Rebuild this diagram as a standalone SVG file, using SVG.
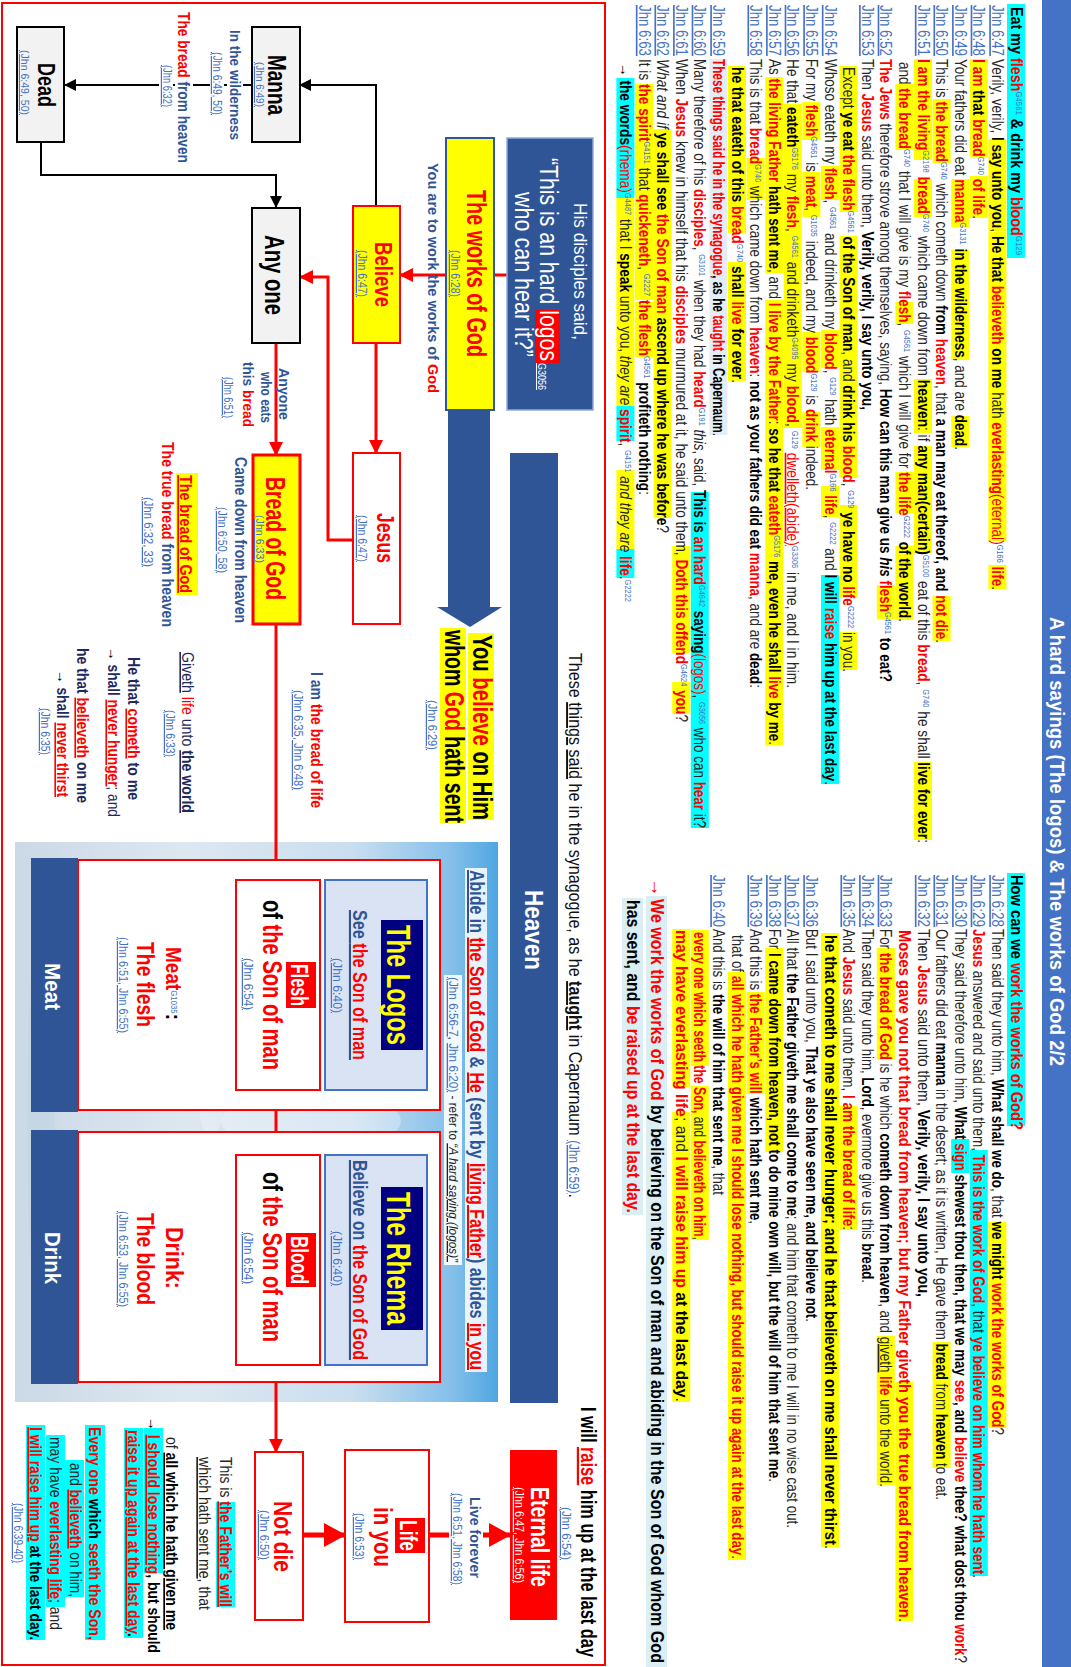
<svg xmlns="http://www.w3.org/2000/svg" width="1071" height="1667" viewBox="0 0 1071 1667">
<style>
text{font-family:"Liberation Sans Narrow","Liberation Sans",Arial,sans-serif}
.v{font-size:16.5px;fill:#262626}
.b{font-weight:700;fill:#000}
.r{font-weight:700;fill:#f00}
.rn{fill:#f00}
.bi{font-weight:700;font-style:italic;fill:#000}
.i{font-style:italic}
.g{font-size:9px;fill:#4472c4;font-weight:400;font-style:normal;baseline-shift:super}
.ref{fill:#4472c4;text-decoration:underline}
.hy{fill:#ffff00}.hc{fill:#00ffff}.hl{fill:#daeef3}
.nb{fill:#2f5597;font-weight:700}
.w{fill:#fff}
.u{text-decoration:underline}
.s12{font-size:12px}
</style>
<defs>
<marker id="ak" markerUnits="userSpaceOnUse" markerWidth="12" markerHeight="12" refX="11" refY="6" orient="auto"><path d="M0,0L12,6L0,12z" fill="#000"/></marker>
<marker id="ar" markerUnits="userSpaceOnUse" markerWidth="14" markerHeight="14" refX="13" refY="7" orient="auto"><path d="M0,0L14,7L0,14z" fill="#f00"/></marker>
<marker id="arb" markerUnits="userSpaceOnUse" markerWidth="22" markerHeight="24" refX="21" refY="12" orient="auto"><path d="M0,0L22,12L0,24z" fill="#f00"/></marker>
<linearGradient id="sky" x1="0" y1="0" x2="0" y2="1">
<stop offset="0" stop-color="#4fa6e2"/><stop offset="0.1" stop-color="#86c0ea"/><stop offset="0.3" stop-color="#c9deef"/><stop offset="0.65" stop-color="#dde7f0"/><stop offset="1" stop-color="#cbd9e6"/>
</linearGradient>
</defs>
<g transform="translate(1071,0) rotate(90)">
<rect x="0" y="0" width="1667" height="29" fill="#4472c4"/>
<text x="617" y="21" textLength="449" lengthAdjust="spacingAndGlyphs" font-size="21" font-weight="700" fill="#fff">A hard sayings (The logos) &amp; The works of God 2/2</text>

<g id="verses-left">
<rect class="hc" x="4" y="46" width="254" height="18"/>
<text class="v" x="7" y="60.5" textLength="248" lengthAdjust="spacingAndGlyphs"><tspan class="b">Eat my </tspan><tspan class="r">flesh</tspan><tspan class="g">G4561</tspan><tspan class="b"> &amp; drink my </tspan><tspan class="r">blood</tspan><tspan class="g">G129</tspan></text>

<rect class="hy" x="139" y="64.6" width="92" height="18"/><rect class="hy" x="232" y="64.6" width="309" height="18"/><rect class="hy" x="565" y="64.6" width="24" height="18"/>
<text class="v ref" x="5" y="79.1" textLength="51" lengthAdjust="spacingAndGlyphs">Jhn 6:47</text>
<text class="v" x="59" y="79.1" textLength="531" lengthAdjust="spacingAndGlyphs">Verily, verily, <tspan class="b">I say unto you</tspan>, <tspan class="b">He that </tspan><tspan class="r">believeth</tspan><tspan class="b"> on me</tspan> hath <tspan class="r">everlasting</tspan><tspan class="rn">(eternal)</tspan><tspan class="g">G166</tspan> <tspan class="r">life</tspan>.</text>

<rect class="hy" x="59" y="83.2" width="98" height="18"/><rect class="hy" x="176" y="83.2" width="42" height="18"/>
<text class="v ref" x="5" y="97.7" textLength="51" lengthAdjust="spacingAndGlyphs">Jhn 6:48</text>
<text class="v" x="59" y="97.7" textLength="160" lengthAdjust="spacingAndGlyphs"><tspan class="r">I am</tspan><tspan class="b"> that </tspan><tspan class="r">bread</tspan><tspan class="g">G740</tspan> <tspan class="r">of life</tspan>.</text>

<rect class="hy" x="179" y="101.8" width="48" height="18"/><rect class="hy" x="250" y="101.8" width="110" height="18"/><rect class="hy" x="416" y="101.8" width="31" height="18"/>
<text class="v ref" x="5" y="116.3" textLength="51" lengthAdjust="spacingAndGlyphs">Jhn 6:49</text>
<text class="v" x="59" y="116.3" textLength="391" lengthAdjust="spacingAndGlyphs">Your fathers did eat <tspan class="r">manna</tspan><tspan class="g">G3131</tspan><tspan class="b"> in the wilderness</tspan>, and are <tspan class="b">dead</tspan>.</text>

<rect class="hy" x="99" y="120.4" width="64" height="18"/><rect class="hy" x="596" y="120.4" width="45" height="18"/>
<text class="v ref" x="5" y="134.9" textLength="51" lengthAdjust="spacingAndGlyphs">Jhn 6:50</text>
<text class="v" x="59" y="134.9" textLength="584" lengthAdjust="spacingAndGlyphs">This is <tspan class="r">the bread</tspan><tspan class="g">G740</tspan> which cometh down <tspan class="b">from </tspan><tspan class="r">heaven</tspan>, that <tspan class="b">a man may eat thereof, and </tspan><tspan class="r">not die</tspan>.</text>

<rect class="hy" x="59" y="139" width="101" height="18"/><rect class="hy" x="179" y="139" width="38" height="18"/><rect class="hy" x="379" y="139" width="54" height="18"/><rect class="hy" x="446" y="139" width="107" height="18"/><rect class="hy" x="762" y="139" width="78" height="18"/>
<text class="v ref" x="5" y="153.5" textLength="51" lengthAdjust="spacingAndGlyphs">Jhn 6:51</text>
<text class="v" x="59" y="153.5" textLength="784" lengthAdjust="spacingAndGlyphs"><tspan class="r">I am the living</tspan><tspan class="g">G2198</tspan> <tspan class="r">bread</tspan><tspan class="g">G740</tspan> which came down from <tspan class="b">heaven</tspan>: if <tspan class="b">any man(certain)</tspan><tspan class="g">G5100</tspan> eat of this <tspan class="r">bread</tspan>, <tspan class="g">G740</tspan> he shall <tspan class="b">live for ever</tspan>:</text>

<rect class="hy" x="84" y="157.6" width="66" height="18"/><rect class="hy" x="302" y="157.6" width="22" height="18"/><rect class="hy" x="472" y="157.6" width="41" height="18"/><rect class="hy" x="546" y="157.6" width="74" height="18"/>
<text class="v" x="62" y="172.1" textLength="560" lengthAdjust="spacingAndGlyphs">and <tspan class="r">the bread</tspan><tspan class="g">G740</tspan> that I will give is my <tspan class="r">flesh</tspan>, <tspan class="g">G4561</tspan> which I will give for <tspan class="r">the life</tspan><tspan class="g">G2222</tspan><tspan class="b"> of the world</tspan>.</text>

<rect class="hy" x="585" y="176.2" width="34" height="18"/>
<text class="v ref" x="5" y="190.7" textLength="51" lengthAdjust="spacingAndGlyphs">Jhn 6:52</text>
<text class="v" x="59" y="190.7" textLength="623" lengthAdjust="spacingAndGlyphs"><tspan class="r">The Jews</tspan> therefore strove among themselves, saying, <tspan class="b">How can this man give us </tspan><tspan class="bi">his </tspan><tspan class="r">flesh</tspan><tspan class="g">G4561</tspan><tspan class="b"> to eat?</tspan></text>

<text class="v ref" x="5" y="209.3" textLength="51" lengthAdjust="spacingAndGlyphs">Jhn 6:53</text>
<text class="v" x="59" y="209.3" textLength="351" lengthAdjust="spacingAndGlyphs">Then <tspan class="r">Jesus</tspan> said unto them, <tspan class="b">Verily, verily, I say unto you,</tspan></text>

<rect class="hy" x="66" y="213.4" width="146" height="18"/><rect class="hy" x="236" y="213.4" width="242" height="18"/><rect class="hy" x="505" y="213.4" width="93" height="18"/><rect class="hy" x="632" y="213.4" width="38" height="18"/>
<text class="v" x="67" y="227.9" textLength="605" lengthAdjust="spacingAndGlyphs">Except <tspan class="b">ye eat </tspan><tspan class="r">the flesh</tspan><tspan class="g">G4561</tspan><tspan class="b"> of the Son of man</tspan>, and <tspan class="b">drink his </tspan><tspan class="r">blood</tspan>, <tspan class="g">G129</tspan><tspan class="b"> ye have no </tspan><tspan class="r">life</tspan><tspan class="g">G2222</tspan> in you.</text>

<rect class="hy" x="166" y="232" width="34" height="18"/><rect class="hy" x="330" y="232" width="38" height="18"/><rect class="hy" x="427" y="232" width="43" height="18"/><rect class="hy" x="486" y="232" width="31" height="18"/><rect class="hc" x="575" y="232" width="209" height="18"/>
<text class="v ref" x="5" y="246.5" textLength="51" lengthAdjust="spacingAndGlyphs">Jhn 6:54</text>
<text class="v" x="59" y="246.5" textLength="726" lengthAdjust="spacingAndGlyphs">Whoso eateth my <tspan class="r">flesh</tspan>, <tspan class="g">G4561</tspan> and drinketh my <tspan class="r">blood</tspan>, <tspan class="g">G129</tspan> hath <tspan class="r">eternal</tspan><tspan class="g">G166</tspan> <tspan class="r">life</tspan>, <tspan class="g">G2222</tspan> and <tspan class="b">I will </tspan><tspan class="r">raise</tspan><tspan class="b"> him up at the last day</tspan>.</text>

<rect class="hy" x="102" y="250.6" width="38" height="18"/><rect class="hy" x="172" y="250.6" width="45" height="18"/><rect class="hy" x="332" y="250.6" width="40" height="18"/><rect class="hy" x="412" y="250.6" width="35" height="18"/>
<text class="v ref" x="5" y="265.1" textLength="51" lengthAdjust="spacingAndGlyphs">Jhn 6:55</text>
<text class="v" x="59" y="265.1" textLength="431" lengthAdjust="spacingAndGlyphs">For my <tspan class="r">flesh</tspan><tspan class="g">G4561</tspan> is <tspan class="r">meat</tspan>, <tspan class="g">G1035</tspan> indeed, and my <tspan class="r">blood</tspan><tspan class="g">G129</tspan> is <tspan class="r">drink</tspan> indeed.</text>

<rect class="hy" x="104" y="269.2" width="324" height="18"/>
<text class="v ref" x="5" y="283.7" textLength="51" lengthAdjust="spacingAndGlyphs">Jhn 6:56</text>
<text class="v" x="59" y="283.7" textLength="629" lengthAdjust="spacingAndGlyphs">He that <tspan class="b">eateth</tspan><tspan class="g">G5176</tspan> my <tspan class="r">flesh</tspan>, <tspan class="g">G4561</tspan> and drinketh<tspan class="g">G4095</tspan> my <tspan class="r">blood</tspan>, <tspan class="g">G129</tspan> <tspan class="rn u">dwelleth(abide)</tspan><tspan class="g">G3306</tspan> in me, and I in him.</text>

<rect class="hy" x="77" y="287.8" width="196" height="18"/><rect class="hy" x="300" y="287.8" width="445" height="18"/>
<text class="v ref" x="5" y="302.3" textLength="51" lengthAdjust="spacingAndGlyphs">Jhn 6:57</text>
<text class="v" x="59" y="302.3" textLength="686" lengthAdjust="spacingAndGlyphs">As <tspan class="r">the living Father</tspan><tspan class="b"> hath sent me</tspan>, and <tspan class="r">I live by the Father</tspan>: <tspan class="b">so he that </tspan><tspan class="r">eateth</tspan><tspan class="g">G5176</tspan><tspan class="b"> me, even he shall </tspan><tspan class="r">live</tspan><tspan class="b"> by me</tspan>.</text>

<rect class="hy" x="158" y="306.4" width="42" height="18"/>
<text class="v ref" x="5" y="320.9" textLength="51" lengthAdjust="spacingAndGlyphs">Jhn 6:58</text>
<text class="v" x="59" y="320.9" textLength="629" lengthAdjust="spacingAndGlyphs">This is that <tspan class="r">bread</tspan><tspan class="g">G740</tspan> which came down from <tspan class="r">heaven</tspan>: <tspan class="b">not as your fathers did eat </tspan><tspan class="r">manna</tspan>, and are <tspan class="b">dead</tspan>:</text>

<rect class="hy" x="66" y="325" width="167" height="18"/><rect class="hy" x="262" y="325" width="119" height="18"/>
<text class="v" x="67" y="339.5" textLength="316" lengthAdjust="spacingAndGlyphs"><tspan class="b">he that eateth of this </tspan><tspan class="r">bread</tspan><tspan class="g">G740</tspan><tspan class="b"> shall </tspan><tspan class="r">live</tspan><tspan class="b"> for ever</tspan>.</text>

<rect x="59" y="343.6" width="376" height="18" fill="#e4ecf6"/>
<text class="v ref" x="5" y="358.1" textLength="51" lengthAdjust="spacingAndGlyphs">Jhn 6:59</text>
<text class="v" x="59" y="358.1" textLength="377" lengthAdjust="spacingAndGlyphs"><tspan class="r">These things said he in the synagogue</tspan><tspan class="b">, as he </tspan><tspan class="r">taught</tspan><tspan class="b"> in Capernaum</tspan>.</text>

<rect class="hc" x="492" y="362.2" width="336" height="18"/>
<text class="v ref" x="5" y="376.7" textLength="51" lengthAdjust="spacingAndGlyphs">Jhn 6:60</text>
<text class="v" x="59" y="376.7" textLength="769" lengthAdjust="spacingAndGlyphs">Many therefore of his <tspan class="r">disciples</tspan>, <tspan class="g">G3101</tspan> when they had <tspan class="r">heard</tspan><tspan class="g">G191</tspan> <tspan class="i">this</tspan>, said, <tspan class="b">This is </tspan><tspan class="r">an hard</tspan><tspan class="g">G4642</tspan><tspan class="b"> saying</tspan><tspan class="rn">(logos)</tspan>, <tspan class="g">G3056</tspan> who can <tspan class="r">hear</tspan> it?</text>

<rect class="hy" x="546" y="380.8" width="107" height="18"/><rect class="hy" x="682" y="380.8" width="32" height="18"/>
<text class="v ref" x="5" y="395.3" textLength="51" lengthAdjust="spacingAndGlyphs">Jhn 6:61</text>
<text class="v" x="59" y="395.3" textLength="663" lengthAdjust="spacingAndGlyphs">When <tspan class="r">Jesus</tspan> knew in himself that his <tspan class="r">disciples</tspan> murmured at it, he said unto them, <tspan class="r">Doth this offend</tspan><tspan class="g">G4624</tspan> <tspan class="r">you</tspan>?</text>

<rect class="hy" x="129" y="399.4" width="389" height="18"/>
<text class="v ref" x="5" y="413.9" textLength="51" lengthAdjust="spacingAndGlyphs">Jhn 6:62</text>
<text class="v" x="59" y="413.9" textLength="474" lengthAdjust="spacingAndGlyphs"><tspan class="i">What and if</tspan> <tspan class="b">ye shall see </tspan><tspan class="r">the Son of man</tspan><tspan class="b"> ascend up where he was before</tspan>?</text>

<rect class="hy" x="84" y="418" width="216" height="18"/><rect class="hy" x="302" y="418" width="55" height="18"/>
<text class="v ref" x="5" y="432.5" textLength="51" lengthAdjust="spacingAndGlyphs">Jhn 6:63</text>
<text class="v" x="59" y="432.5" textLength="436" lengthAdjust="spacingAndGlyphs">It is <tspan class="r">the spirit</tspan><tspan class="g">G4151</tspan> that <tspan class="r">quickeneth</tspan>, <tspan class="g">G2227</tspan> <tspan class="r">the flesh</tspan><tspan class="g">G4561</tspan> <tspan class="b">profiteth nothing</tspan>:</text>

<rect class="hc" x="78" y="436.6" width="120" height="18"/><rect class="hy" x="198" y="436.6" width="208" height="18"/><rect class="hc" x="406" y="436.6" width="35" height="18"/><rect class="hy" x="470" y="436.6" width="79" height="18"/><rect class="hc" x="549" y="436.6" width="29" height="18"/>
<text class="v" x="63" y="451.1" textLength="539" lengthAdjust="spacingAndGlyphs"><tspan class="b">→ the words</tspan><tspan class="rn">(rhema)</tspan><tspan class="g">G4487</tspan> that I <tspan class="b">speak</tspan> unto you, <tspan class="i">they are </tspan><tspan class="r">spirit</tspan>, <tspan class="g">G4151</tspan> <tspan class="i">and they are </tspan><tspan class="r">life</tspan>.<tspan class="g">G2222</tspan></text>
</g>

<g id="verses-right">
<rect class="hc" x="873" y="46" width="253" height="18"/>
<text class="v" x="875" y="60.5" textLength="255" lengthAdjust="spacingAndGlyphs"><tspan class="b">How can we </tspan><tspan class="r">work the works of God?</tspan></text>

<rect class="hy" x="1222" y="64.6" width="206" height="18"/>
<text class="v ref" x="875" y="79.1" textLength="52" lengthAdjust="spacingAndGlyphs">Jhn 6:28</text>
<text class="v" x="929" y="79.1" textLength="506" lengthAdjust="spacingAndGlyphs">Then said they unto him, <tspan class="b">What shall we do</tspan>, that <tspan class="b">we might </tspan><tspan class="r">work the works of God</tspan>?</text>

<rect class="hc" x="1150" y="83.2" width="426" height="18"/>
<text class="v ref" x="875" y="97.7" textLength="52" lengthAdjust="spacingAndGlyphs">Jhn 6:29</text>
<text class="v" x="929" y="97.7" textLength="649" lengthAdjust="spacingAndGlyphs"><tspan class="r">Jesus</tspan> answered and said unto them, <tspan class="r">This is the work of God</tspan>, that <tspan class="r">ye believe on him whom he hath sent</tspan>.</text>

<rect class="hc" x="1139" y="101.8" width="34" height="18"/>
<text class="v ref" x="875" y="116.3" textLength="52" lengthAdjust="spacingAndGlyphs">Jhn 6:30</text>
<text class="v" x="929" y="116.3" textLength="734" lengthAdjust="spacingAndGlyphs">They said therefore unto him, <tspan class="b">What </tspan><tspan class="r">sign</tspan><tspan class="b"> shewest thou then, that we may </tspan><tspan class="r">see</tspan><tspan class="b">, and </tspan><tspan class="r">believe</tspan><tspan class="b"> thee? what dost thou </tspan><tspan class="r">work</tspan>?</text>

<rect class="hy" x="1342" y="120.4" width="126" height="18"/>
<text class="v ref" x="875" y="134.9" textLength="52" lengthAdjust="spacingAndGlyphs">Jhn 6:31</text>
<text class="v" x="929" y="134.9" textLength="571" lengthAdjust="spacingAndGlyphs">Our fathers did eat <tspan class="b">manna</tspan> in the desert; as it is written, He gave them <tspan class="b">bread</tspan> from <tspan class="b">heaven</tspan> to eat.</text>

<text class="v ref" x="875" y="153.5" textLength="52" lengthAdjust="spacingAndGlyphs">Jhn 6:32</text>
<text class="v" x="929" y="153.5" textLength="368" lengthAdjust="spacingAndGlyphs">Then <tspan class="r">Jesus</tspan> said unto them, <tspan class="b">Verily, verily, I say unto you,</tspan></text>

<rect class="hy" x="1382" y="157.6" width="239" height="18"/>
<text class="v" x="930" y="172.1" textLength="692" lengthAdjust="spacingAndGlyphs"><tspan class="r">Moses gave you not that bread from heaven; but my Father giveth you the true bread from heaven</tspan>.</text>

<rect class="hy" x="948" y="176.2" width="112" height="18"/><rect class="hy" x="1336" y="176.2" width="149" height="18"/>
<text class="v ref" x="875" y="190.7" textLength="52" lengthAdjust="spacingAndGlyphs">Jhn 6:33</text>
<text class="v" x="929" y="190.7" textLength="558" lengthAdjust="spacingAndGlyphs">For <tspan class="r">the bread of God</tspan> is he which <tspan class="b">cometh down from heaven</tspan>, and <tspan class="u">giveth</tspan> <tspan class="r">life</tspan> unto the world.</text>

<text class="v ref" x="875" y="209.3" textLength="52" lengthAdjust="spacingAndGlyphs">Jhn 6:34</text>
<text class="v" x="929" y="209.3" textLength="354" lengthAdjust="spacingAndGlyphs">Then said they unto him, <tspan class="b">Lord</tspan>, evermore give us this <tspan class="b">bread</tspan>.</text>

<rect class="hy" x="1106" y="213.4" width="124" height="18"/>
<text class="v ref" x="875" y="227.9" textLength="52" lengthAdjust="spacingAndGlyphs">Jhn 6:35</text>
<text class="v" x="929" y="227.9" textLength="301" lengthAdjust="spacingAndGlyphs">And <tspan class="r">Jesus</tspan> said unto them, <tspan class="r">I am the bread of life</tspan>:</text>

<rect class="hy" x="933" y="232" width="614" height="18"/>
<text class="v" x="935" y="246.5" textLength="614" lengthAdjust="spacingAndGlyphs"><tspan class="b">he that cometh to me shall never hunger; and he that believeth on me shall never thirst</tspan>.</text>

<text class="v ref" x="875" y="265.1" textLength="52" lengthAdjust="spacingAndGlyphs">Jhn 6:36</text>
<text class="v" x="929" y="265.1" textLength="393" lengthAdjust="spacingAndGlyphs">But I said unto you, <tspan class="b">That ye also have seen me, and believe not</tspan>.</text>

<text class="v ref" x="875" y="283.7" textLength="52" lengthAdjust="spacingAndGlyphs">Jhn 6:37</text>
<text class="v" x="929" y="283.7" textLength="599" lengthAdjust="spacingAndGlyphs">All that <tspan class="b">the Father giveth me shall come to me</tspan>; and him that cometh to me I will in no wise cast out.</text>

<rect class="hy" x="948" y="287.8" width="204" height="18"/>
<text class="v ref" x="875" y="302.3" textLength="52" lengthAdjust="spacingAndGlyphs">Jhn 6:38</text>
<text class="v" x="929" y="302.3" textLength="553" lengthAdjust="spacingAndGlyphs">For <tspan class="b">I came down from heaven, not to do mine own will, but the will of him that sent me</tspan>.</text>

<rect class="hy" x="992" y="306.4" width="102" height="18"/>
<text class="v ref" x="875" y="320.9" textLength="52" lengthAdjust="spacingAndGlyphs">Jhn 6:39</text>
<text class="v" x="929" y="320.9" textLength="295" lengthAdjust="spacingAndGlyphs">And this is <tspan class="r">the Father’s will</tspan> <tspan class="b">which hath sent me</tspan>,</text>

<rect class="hy" x="972" y="325" width="588" height="18"/>
<text class="v" x="935" y="339.5" textLength="624" lengthAdjust="spacingAndGlyphs">that of <tspan class="r">all which he hath given me I should lose nothing, but should raise it up again at the last day</tspan>.</text>

<text class="v ref" x="875" y="358.1" textLength="52" lengthAdjust="spacingAndGlyphs">Jhn 6:40</text>
<text class="v" x="929" y="358.1" textLength="266" lengthAdjust="spacingAndGlyphs">And this is <tspan class="b">the will of him that sent me</tspan>, that</text>

<rect class="hy" x="930" y="362.2" width="136" height="18"/><rect class="hy" x="1086" y="362.2" width="154" height="18"/>
<text class="v" x="932" y="376.7" textLength="308" lengthAdjust="spacingAndGlyphs"><tspan class="r">every one which seeth the Son,</tspan> and <tspan class="r">believeth on him</tspan>,</text>

<rect class="hy" x="929" y="380.8" width="158" height="18"/><rect class="hy" x="1112" y="380.8" width="290" height="18"/>
<text class="v" x="930" y="395.3" textLength="472" lengthAdjust="spacingAndGlyphs"><tspan class="r">may have everlasting life</tspan>; and <tspan class="r">I will raise him up</tspan><tspan class="b"> at the last day</tspan>.</text>

<rect class="hl" x="896" y="404" width="771" height="21"/>
<text x="878" y="420" font-size="18.5" font-weight="700" fill="#f00">→</text>
<text x="899" y="420" textLength="764" lengthAdjust="spacingAndGlyphs" font-size="18.5" font-weight="700" fill="#000"><tspan fill="#f00">We work the works of God</tspan> by believing on the Son of man and abiding in the Son of God whom God</text>
<rect class="hl" x="898" y="428" width="317" height="21"/>
<text x="900" y="444" textLength="313" lengthAdjust="spacingAndGlyphs" font-size="18.5" font-weight="700" fill="#000">has sent, and <tspan fill="#f00">be raised up at the last day.</tspan></text>
</g>

<rect x="3" y="466" width="1662" height="603" fill="none" stroke="#f00" stroke-width="2"/>

<g id="sky-panel">
<rect x="842" y="573" width="560" height="483" fill="url(#sky)"/>
<ellipse cx="1000" cy="860" rx="140" ry="20" fill="#fff" opacity="0.25"/>
<ellipse cx="1250" cy="900" rx="120" ry="18" fill="#fff" opacity="0.25"/>
<ellipse cx="1121" cy="760" rx="30" ry="90" fill="#fff" opacity="0.3"/>
<ellipse cx="1120" cy="1030" rx="200" ry="14" fill="#b8cde0" opacity="0.35"/>
</g>

<g id="connectors">
<polyline points="206,695 85,695 85,771" fill="none" stroke="#000" stroke-width="2" marker-end="url(#ak)"/>
<line x1="85" y1="819" x2="85" y2="1006" stroke="#000" stroke-width="2" marker-end="url(#ak)"/>
<polyline points="142,1030 175,1030 175,795 207,795" fill="none" stroke="#000" stroke-width="2" marker-end="url(#ak)"/>
<line x1="275" y1="564" x2="275" y2="577" stroke="#f00" stroke-width="3"/>
<line x1="275" y1="625" x2="275" y2="671" stroke="#f00" stroke-width="3" marker-end="url(#ar)"/>
<line x1="343" y1="695" x2="453" y2="695" stroke="#f00" stroke-width="3" marker-end="url(#ar)"/>
<polyline points="540,718 540,743 277,743 277,771" fill="none" stroke="#f00" stroke-width="3" marker-end="url(#ar)"/>
<line x1="343" y1="795" x2="455" y2="795" stroke="#f00" stroke-width="3" marker-end="url(#ar)"/>
<line x1="624" y1="795" x2="880" y2="795" stroke="#f00" stroke-width="3" marker-end="url(#ar)"/>
<line x1="1090" y1="795" x2="1155" y2="795" stroke="#f00" stroke-width="3" marker-end="url(#ar)"/>
<line x1="1365" y1="795" x2="1452" y2="795" stroke="#f00" stroke-width="3" marker-end="url(#ar)"/>
<line x1="1535" y1="768" x2="1535" y2="726" stroke="#f00" stroke-width="5" marker-end="url(#arb)"/>
<line x1="1535" y1="642" x2="1535" y2="561" stroke="#f00" stroke-width="5" marker-end="url(#arb)"/>
<polygon points="410,581 607,581 607,569 627,601 607,634 607,623 410,623" fill="#2f5597"/>
</g>

<g id="disciples">
<rect x="138" y="478" width="272" height="86" fill="#2f5597" stroke="#8faadc" stroke-width="1.5"/>
<text x="203" y="497" textLength="137" lengthAdjust="spacingAndGlyphs" font-size="18" class="w">His disciples said,</text>
<rect x="310" y="511" width="53" height="25" fill="#f00"/>
<text x="158" y="531" textLength="203" lengthAdjust="spacingAndGlyphs" font-size="26" class="w">“This is an hard logos</text>
<text x="363" y="533" textLength="27" lengthAdjust="spacingAndGlyphs" font-size="10" class="w u">G3056</text>
<text x="192" y="556" textLength="165" lengthAdjust="spacingAndGlyphs" font-size="26" class="w">who can hear it?”</text>
</g>

<g id="works">
<rect x="138" y="577" width="272" height="48" fill="#ff0" stroke="#2f5597" stroke-width="2"/>
<text x="190" y="604" textLength="167" lengthAdjust="spacingAndGlyphs" font-size="28" class="r">The works of God</text>
<text x="250" y="620" textLength="47" lengthAdjust="spacingAndGlyphs" class="ref s12">(Jhn 6:28)</text>
<text x="163" y="643" textLength="230" lengthAdjust="spacingAndGlyphs" font-size="15" class="nb">You are to work the works of <tspan fill="#f00">God</tspan></text>
</g>

<g id="believe">
<rect x="206" y="671" width="137" height="47" fill="#ff0" stroke="#f00" stroke-width="2"/>
<text x="242" y="696" textLength="65" lengthAdjust="spacingAndGlyphs" font-size="24" class="r">Believe</text>
<text x="250" y="713" textLength="47" lengthAdjust="spacingAndGlyphs" class="ref s12">(Jhn 6:47)</text>
</g>

<g id="manna">
<rect x="27" y="771" width="115" height="48" fill="#f2f2f2" stroke="#000" stroke-width="2"/>
<text x="55" y="803" textLength="60" lengthAdjust="spacingAndGlyphs" font-size="26" font-weight="700">Manna</text>
<text x="62" y="815" textLength="45" lengthAdjust="spacingAndGlyphs" font-size="11" class="ref">(Jhn 6:49)</text>
</g>

<g id="manna-label">
<rect x="28" y="828" width="114" height="16" fill="#fff"/>
<text x="30" y="841" textLength="110" lengthAdjust="spacingAndGlyphs" font-size="15" class="nb">In the wilderness</text>
<rect x="50" y="847" width="67" height="14" fill="#fff"/>
<text x="52" y="858" textLength="63" lengthAdjust="spacingAndGlyphs" class="ref s12">(Jhn 6:49, 50)</text>
<rect x="10" y="878" width="155" height="18" fill="#fff"/>
<text x="12" y="893" textLength="151" lengthAdjust="spacingAndGlyphs" font-size="16" class="nb"><tspan fill="#f00">The bread</tspan> from heaven</text>
<rect x="63" y="898" width="46" height="14" fill="#fff"/>
<text x="65" y="908" textLength="42" lengthAdjust="spacingAndGlyphs" class="ref s12">(Jhn 6:32)</text>
</g>

<g id="dead">
<rect x="27" y="1007" width="115" height="47" fill="#f2f2f2" stroke="#000" stroke-width="2"/>
<text x="63" y="1033" textLength="44" lengthAdjust="spacingAndGlyphs" font-size="24" font-weight="700">Dead</text>
<text x="50" y="1050" textLength="65" lengthAdjust="spacingAndGlyphs" font-size="11" class="ref">(Jhn 6:49, 50)</text>
</g>

<g id="anyone">
<rect x="208" y="771" width="135" height="48" fill="#f2f2f2" stroke="#000" stroke-width="2"/>
<text x="235" y="806" textLength="80" lengthAdjust="spacingAndGlyphs" font-size="28" font-weight="700">Any one</text>
</g>

<g id="anyone-label">
<text x="368" y="792" textLength="52" lengthAdjust="spacingAndGlyphs" font-size="15" class="nb">Anyone</text>
<text x="372" y="810" textLength="51" lengthAdjust="spacingAndGlyphs" font-size="15" class="nb">who eats</text>
<text x="362" y="828" textLength="65" lengthAdjust="spacingAndGlyphs" font-size="15" class="nb">this <tspan fill="#f00">bread</tspan></text>
<text x="377" y="847" textLength="41" lengthAdjust="spacingAndGlyphs" class="ref s12">(Jhn 6:51)</text>
</g>

<g id="jesus">
<rect x="453" y="671" width="171" height="47" fill="#fff" stroke="#f00" stroke-width="2"/>
<text x="513" y="694" textLength="50" lengthAdjust="spacingAndGlyphs" font-size="24" class="r">Jesus</text>
<text x="515" y="713" textLength="47" lengthAdjust="spacingAndGlyphs" class="ref s12">(Jhn 6:47)</text>
</g>

<g id="bread-of-god">
<rect x="455" y="771" width="169" height="47" fill="#ff0" stroke="#f00" stroke-width="3"/>
<text x="477" y="805" textLength="123" lengthAdjust="spacingAndGlyphs" font-size="28" class="r">Bread of God</text>
<text x="515" y="815" textLength="48" lengthAdjust="spacingAndGlyphs" font-size="10" class="ref">(Jhn 6:33)</text>
</g>

<g id="bread-labels">
<text x="457" y="836" textLength="166" lengthAdjust="spacingAndGlyphs" font-size="16" class="nb">Came down from heaven</text>
<text x="507" y="853" textLength="66" lengthAdjust="spacingAndGlyphs" class="ref s12">(Jhn 6:50, 58)</text>
<rect x="473" y="873" width="122" height="22" fill="#ff0"/>
<text x="475" y="891" textLength="118" lengthAdjust="spacingAndGlyphs" font-size="17" class="r u">The bread of God</text>
<text x="442" y="909" textLength="185" lengthAdjust="spacingAndGlyphs" font-size="16" class="nb"><tspan fill="#f00">The true bread</tspan> from heaven</text>
<text x="497" y="927" textLength="70" lengthAdjust="spacingAndGlyphs" class="ref s12">(Jhn 6:32, 33)</text>
<text x="652" y="889" textLength="161" lengthAdjust="spacingAndGlyphs" font-size="16" fill="#1f2a5c"><tspan class="u">Giveth</tspan> <tspan fill="#f00">life</tspan> unto <tspan font-weight="700" class="u">the world</tspan></text>
<text x="710" y="905" textLength="47" lengthAdjust="spacingAndGlyphs" class="ref s12">(Jhn 6:33)</text>
<text x="657" y="943" textLength="143" lengthAdjust="spacingAndGlyphs" font-size="16" font-weight="700" fill="#1f2a5c">He that <tspan fill="#f00" class="u">cometh</tspan> to me</text>
<text x="647" y="963" textLength="170" lengthAdjust="spacingAndGlyphs" font-size="16" font-weight="700" fill="#1f2a5c"><tspan fill="#000">→</tspan> shall <tspan fill="#f00" class="u">never hunger</tspan><tspan font-weight="400">; and</tspan></text>
<text x="648" y="994" textLength="155" lengthAdjust="spacingAndGlyphs" font-size="16" font-weight="700" fill="#1f2a5c">he that <tspan fill="#f00" class="u">believeth</tspan> on me</text>
<text x="670" y="1014" textLength="127" lengthAdjust="spacingAndGlyphs" font-size="16" font-weight="700" fill="#1f2a5c"><tspan fill="#000">→</tspan> shall <tspan fill="#f00" class="u">never thirst</tspan></text>
<text x="708" y="1030" textLength="47" lengthAdjust="spacingAndGlyphs" class="ref s12">(Jhn 6:35)</text>
<text x="672" y="760" textLength="136" lengthAdjust="spacingAndGlyphs" font-size="16" class="nb">I am <tspan fill="#f00">the bread of life</tspan></text>
<text x="690" y="777" textLength="100" lengthAdjust="spacingAndGlyphs" class="ref s12">(Jhn 6:35, Jhn 6:48)</text>
</g>

<g id="you-believe">
<rect x="633" y="577" width="187" height="26" fill="#ff0"/>
<rect x="628" y="605" width="195" height="26" fill="#ff0"/>
<text x="635" y="598" textLength="185" lengthAdjust="spacingAndGlyphs" font-size="28" font-weight="700">You <tspan fill="#f00">believe</tspan> on Him</text>
<text x="630" y="626" textLength="193" lengthAdjust="spacingAndGlyphs" font-size="28" font-weight="700">whom <tspan fill="#f00">God</tspan> hath sent</text>
<text x="700" y="643" textLength="50" lengthAdjust="spacingAndGlyphs" class="ref s12">(Jhn 6:29)</text>
</g>

<text x="653" y="502" textLength="545" lengthAdjust="spacingAndGlyphs" font-size="19" fill="#111">These <tspan class="u">things</tspan> <tspan class="u">said</tspan> he in the synagogue, as he <tspan font-weight="700" class="u">taught</tspan> in Capernaum <tspan class="ref" font-size="14">(Jhn 6:59)</tspan>.</text>

<g id="heaven">
<rect x="453" y="513" width="950" height="48" fill="#2f5597"/>
<text x="890" y="546" textLength="80" lengthAdjust="spacingAndGlyphs" font-size="26" font-weight="700" class="w">Heaven</text>
<rect x="868" y="584" width="504" height="22" fill="#fff" opacity="0.85"/>
<text x="870" y="601" textLength="500" lengthAdjust="spacingAndGlyphs" font-size="20" class="nb"><tspan class="u">Abide in</tspan> <tspan fill="#f00" class="u">the Son of God</tspan> &amp; <tspan fill="#f00" class="u">He</tspan> (sent by <tspan fill="#f00" class="u">living Father</tspan>) abides <tspan fill="#f00" class="u">in you</tspan></text>
<rect x="975" y="609" width="290" height="18" fill="#fff" opacity="0.9"/>
<text x="977" y="622" textLength="285" lengthAdjust="spacingAndGlyphs" font-size="13" fill="#222"><tspan class="ref">(Jhn 6:56-7</tspan>, <tspan class="ref">Jhn 6:20)</tspan> - refer to <tspan class="i u">“A hard saying (logos)”</tspan></text>
</g>

<g id="meat">
<rect x="860" y="631" width="250" height="362" fill="#fff" stroke="#f00" stroke-width="2"/>
<rect x="858" y="993" width="254" height="47" fill="#2f5597"/>
<text x="963" y="1026" textLength="47" lengthAdjust="spacingAndGlyphs" font-size="22" font-weight="700" class="w">Meat</text>
<text x="947" y="905" textLength="73" lengthAdjust="spacingAndGlyphs" font-size="22" class="r">Meat<tspan class="g" font-size="8">G1035</tspan><tspan fill="#000">:</tspan></text>
<text x="942" y="934" textLength="85" lengthAdjust="spacingAndGlyphs" font-size="24" class="r">The flesh</text>
<text x="937" y="952" textLength="96" lengthAdjust="spacingAndGlyphs" class="ref s12">(Jhn 6:51, Jhn 6:55)</text>
</g>

<g id="logos">
<rect x="880" y="644" width="210" height="102" fill="#dae3f3" stroke="#4472c4" stroke-width="2"/>
<rect x="920" y="648" width="130" height="42" fill="#000080"/>
<text x="925" y="684" textLength="120" lengthAdjust="spacingAndGlyphs" font-size="34" font-weight="700" fill="#ff0">The Logos</text>
<text x="910" y="718" textLength="150" lengthAdjust="spacingAndGlyphs" font-size="21" class="nb u">See <tspan fill="#f00">the Son of man</tspan></text>
<text x="958" y="738" textLength="55" lengthAdjust="spacingAndGlyphs" class="ref s12">(Jhn 6:40)</text>
</g>

<g id="flesh">
<rect x="880" y="751" width="210" height="84" fill="#fff" stroke="#f00" stroke-width="2"/>
<rect x="962" y="755" width="46" height="30" fill="#f00"/>
<text x="964" y="780" textLength="42" lengthAdjust="spacingAndGlyphs" font-size="24" font-weight="700" class="w">Flesh</text>
<text x="900" y="808" textLength="170" lengthAdjust="spacingAndGlyphs" font-size="28" font-weight="700">of <tspan fill="#f00">the Son of man</tspan></text>
<text x="958" y="827" textLength="52" lengthAdjust="spacingAndGlyphs" class="ref s12">(Jhn 6:54)</text>
</g>

<g id="drink">
<rect x="1132" y="631" width="250" height="362" fill="#fff" stroke="#f00" stroke-width="2"/>
<rect x="1130" y="993" width="254" height="47" fill="#2f5597"/>
<text x="1232" y="1026" textLength="52" lengthAdjust="spacingAndGlyphs" font-size="22" font-weight="700" class="w">Drink</text>
<text x="1227" y="905" textLength="62" lengthAdjust="spacingAndGlyphs" font-size="24" class="r">Drink:</text>
<text x="1213" y="934" textLength="92" lengthAdjust="spacingAndGlyphs" font-size="24" class="r">The blood</text>
<text x="1211" y="952" textLength="96" lengthAdjust="spacingAndGlyphs" class="ref s12">(Jhn 6:53, Jhn 6:55)</text>
</g>

<g id="rhema">
<rect x="1155" y="644" width="210" height="102" fill="#dae3f3" stroke="#4472c4" stroke-width="2"/>
<rect x="1187" y="648" width="143" height="42" fill="#000080"/>
<text x="1192" y="684" textLength="133" lengthAdjust="spacingAndGlyphs" font-size="34" font-weight="700" fill="#ff0">The Rhema</text>
<text x="1160" y="718" textLength="200" lengthAdjust="spacingAndGlyphs" font-size="21" class="nb u">Believe on <tspan fill="#f00">the Son of God</tspan></text>
<text x="1231" y="738" textLength="55" lengthAdjust="spacingAndGlyphs" class="ref s12">(Jhn 6:40)</text>
</g>

<g id="blood">
<rect x="1155" y="751" width="210" height="84" fill="#fff" stroke="#f00" stroke-width="2"/>
<rect x="1233" y="755" width="54" height="30" fill="#f00"/>
<text x="1236" y="780" textLength="48" lengthAdjust="spacingAndGlyphs" font-size="24" font-weight="700" class="w">Blood</text>
<text x="1172" y="808" textLength="170" lengthAdjust="spacingAndGlyphs" font-size="28" font-weight="700">of <tspan fill="#f00">the Son of man</tspan></text>
<text x="1232" y="827" textLength="52" lengthAdjust="spacingAndGlyphs" class="ref s12">(Jhn 6:54)</text>
</g>

<g id="raise-label">
<text x="1407" y="490" textLength="250" lengthAdjust="spacingAndGlyphs" font-size="22" font-weight="700">I will <tspan fill="#f00" class="u">raise</tspan> him up at the last day</text>
<text x="1507" y="509" textLength="53" lengthAdjust="spacingAndGlyphs" class="ref s12">(Jhn 6:54)</text>
</g>

<g id="eternal-life">
<rect x="1450" y="514" width="170" height="47" fill="#f00"/>
<text x="1487" y="540" textLength="100" lengthAdjust="spacingAndGlyphs" font-size="26" font-weight="700" class="w">Eternal life</text>
<text x="1487" y="556" textLength="96" lengthAdjust="spacingAndGlyphs" font-size="12" class="w u">(Jhn 6:47, Jhn 6:56)</text>
</g>

<g id="live-forever">
<rect x="1490" y="588" width="100" height="34" fill="#fff"/>
<text x="1497" y="601" textLength="81" lengthAdjust="spacingAndGlyphs" font-size="15" class="nb">Live forever</text>
<text x="1493" y="618" textLength="92" lengthAdjust="spacingAndGlyphs" class="ref s12">(Jhn 6:51, Jhn 6:58)</text>
</g>

<g id="life-in-you">
<rect x="1450" y="642" width="172" height="84" fill="#fff" stroke="#f00" stroke-width="2"/>
<rect x="1518" y="646" width="35" height="30" fill="#f00"/>
<text x="1520" y="671" textLength="31" lengthAdjust="spacingAndGlyphs" font-size="24" font-weight="700" class="w">Life</text>
<text x="1507" y="697" textLength="60" lengthAdjust="spacingAndGlyphs" font-size="26" class="r">in you</text>
<text x="1513" y="716" textLength="47" lengthAdjust="spacingAndGlyphs" class="ref s12">(Jhn 6:53)</text>
</g>

<g id="not-die">
<rect x="1452" y="768" width="168" height="48" fill="#fff" stroke="#f00" stroke-width="2"/>
<text x="1501" y="797" textLength="71" lengthAdjust="spacingAndGlyphs" font-size="26" class="r">Not die</text>
<text x="1510" y="811" textLength="50" lengthAdjust="spacingAndGlyphs" class="ref s12">(Jhn 6:50)</text>
</g>

<g id="fathers-will">
<rect class="hc" x="1502" y="836" width="105" height="19"/>
<text x="1457" y="851" textLength="150" lengthAdjust="spacingAndGlyphs" font-size="17" fill="#262626">This is <tspan class="r u">the Father’s will</tspan></text>
<text x="1457" y="872" textLength="153" lengthAdjust="spacingAndGlyphs" font-size="17" fill="#262626"><tspan class="u">which hath sent me</tspan>, that</text>
<text x="1437" y="905" textLength="193" lengthAdjust="spacingAndGlyphs" font-size="17" fill="#262626">of <tspan font-weight="700" fill="#000" class="u">all which he hath given me</tspan></text>
<rect class="hc" x="1428" y="908" width="145" height="19"/>
<text x="1417" y="923" textLength="236" lengthAdjust="spacingAndGlyphs" font-size="17" font-weight="700" fill="#000">→ <tspan fill="#f00" class="u">I should lose nothing</tspan>, but should</text>
<rect class="hc" x="1428" y="928" width="210" height="19"/>
<text x="1430" y="943" textLength="207" lengthAdjust="spacingAndGlyphs" font-size="17" class="r"><tspan class="u">raise it up again at the last day</tspan><tspan fill="#000">.</tspan></text>
<rect class="hc" x="1425" y="966" width="215" height="20"/>
<text x="1427" y="982" textLength="213" lengthAdjust="spacingAndGlyphs" font-size="17" class="r">Every one <tspan fill="#000">which</tspan> seeth the Son,</text>
<rect class="hc" x="1460" y="987" width="137" height="19"/>
<text x="1463" y="1001" textLength="134" lengthAdjust="spacingAndGlyphs" font-size="17" fill="#262626">and <tspan class="r u">believeth</tspan> on him,</text>
<rect class="hc" x="1435" y="1006" width="172" height="19"/>
<text x="1437" y="1021" textLength="193" lengthAdjust="spacingAndGlyphs" font-size="17" fill="#262626">may have <tspan class="r">everlasting</tspan> <tspan class="r u">life</tspan>; and</text>
<rect class="hc" x="1425" y="1026" width="215" height="19"/>
<text x="1427" y="1041" textLength="213" lengthAdjust="spacingAndGlyphs" font-size="17" font-weight="700" fill="#000"><tspan fill="#f00" class="u">I will raise him up</tspan> at the last day.</text>
<text x="1503" y="1057" textLength="60" lengthAdjust="spacingAndGlyphs" class="ref s12">(Jhn 6:39-40)</text>
</g>
</g>
</svg>
